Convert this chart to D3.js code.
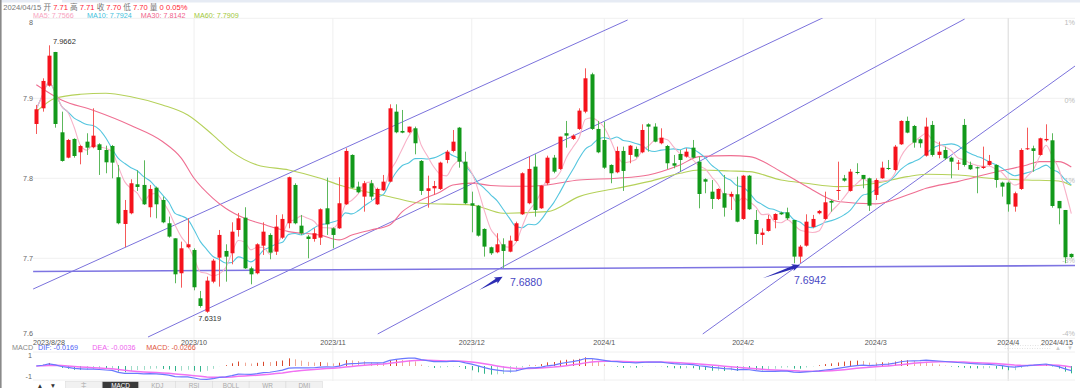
<!DOCTYPE html>
<html>
<head>
<meta charset="utf-8">
<script src="https://cdn.jsdelivr.net/npm/d3@7"></script>
<style>
  body { margin: 0; background: #fff; }
  svg { display: block; font-family: "Liberation Sans", Arial, "Noto Sans CJK SC", sans-serif; }
</style>
</head>
<body>
<div id="chart"></div>
<script>
// daily candles 2023/8/28 .. 2024/4/15
const opens = [7.8679,7.8875,7.9158,7.9579,7.8575,7.8258,7.8492,7.8325,7.8458,7.8388,7.8425,7.8354,7.8404,7.8013,7.7429,7.7563,7.7925,7.7917,7.7638,7.7883,
  7.7729,7.7438,7.725,7.6813,7.7138,7.7104,7.65,7.6333,7.6708,7.7008,7.7092,7.7063,7.7354,7.7508,7.6875,7.6813,7.7158,7.7292,7.7083,7.7258,
  7.7438,7.7917,7.7408,7.7271,7.7242,7.7258,7.7625,7.7375,7.7375,7.7675,7.8292,7.7896,7.7771,7.7938,7.7675,7.785,7.7958,7.8833,7.8592,7.8575,
  7.8625,7.8217,7.7842,7.7875,7.7867,7.8229,7.8342,7.8633,7.8208,7.7688,7.7658,7.7367,7.7138,7.7075,7.7175,7.7083,7.7217,7.755,7.7688,7.8146,
  7.7625,7.7938,7.8258,7.8117,7.8563,7.8492,7.8617,7.8833,7.93,7.8617,7.8479,7.8167,7.8075,7.8342,7.8292,7.8367,7.8325,7.8675,7.8646,7.8438,
  7.8404,7.8188,7.8304,7.8271,7.8383,7.8208,7.7988,7.7833,7.7742,7.7813,7.7771,7.78,7.7492,7.8033,7.7479,7.7292,7.7342,7.7479,7.7571,7.7575,
  7.7479,7.7021,7.7158,7.7392,7.7563,7.7492,7.7717,7.7842,7.8,7.7842,7.8079,7.8042,7.8,7.7792,7.8,7.8129,7.8104,7.8425,7.8717,7.8654,
  7.8488,7.8283,7.8667,7.8292,7.8354,7.8258,7.8183,7.8667,7.8167,7.8138,7.8129,7.8167,7.8167,7.7946,7.7946,7.7646,7.7867,7.8367,7.8375,7.8292,
  7.8475,7.8475,7.7717,7.7604,7.7055];
const highs = [7.8917,7.925,7.9662,7.958,7.8833,7.8492,7.85,7.8417,7.8563,7.8875,7.8438,7.8408,7.8417,7.8167,7.7729,7.7988,7.81,7.8225,7.7917,7.7896,
  7.7771,7.7521,7.725,7.7208,7.75,7.7125,7.6592,7.6771,7.6992,7.7354,7.7175,7.745,7.7567,7.7638,7.6896,7.7188,7.745,7.7313,7.7542,7.755,
  7.8021,7.7938,7.7542,7.7292,7.7375,7.7625,7.8008,7.7388,7.8013,7.8375,7.83,7.7958,7.7967,7.7979,7.7883,7.8042,7.8925,7.8925,7.8854,7.8646,
  7.8646,7.8229,7.8033,7.7967,7.8208,7.8354,7.8604,7.8642,7.8333,7.7833,7.7667,7.7375,7.7146,7.7313,7.725,7.7283,7.7458,7.8075,7.8271,7.83,
  7.7917,7.8283,7.8292,7.8521,7.8717,7.855,7.8875,7.9375,7.932,7.8717,7.8708,7.8175,7.8396,7.8396,7.8417,7.8396,7.8675,7.8688,7.8688,7.8625,
  7.8417,7.8292,7.8354,7.8375,7.8479,7.8271,7.8,7.7979,7.7875,7.8042,7.7833,7.8021,7.8042,7.8042,7.7604,7.7375,7.7542,7.7563,7.7583,7.7633,
  7.7479,7.7167,7.755,7.7542,7.7604,7.7833,7.7729,7.8208,7.8042,7.8117,7.8188,7.8042,7.8008,7.8,7.8208,7.8229,7.8417,7.8725,7.8771,7.8667,
  7.85,7.8758,7.8717,7.8458,7.8396,7.8271,7.8229,7.8742,7.8208,7.8146,7.8396,7.8292,7.8175,7.7958,7.7958,7.7833,7.8375,7.8633,7.8408,7.8508,
  7.8675,7.8563,7.7717,7.7604,7.706];
const lows = [7.8554,7.8833,7.9146,7.8633,7.8208,7.825,7.8258,7.8175,7.8292,7.8375,7.8042,7.8063,7.8,7.7425,7.7138,7.755,7.7842,7.7667,7.7513,7.75,
  7.7438,7.7258,7.6688,7.6633,7.7125,7.66,7.6383,7.6319,7.6688,7.6646,7.6708,7.6925,7.7271,7.6867,7.6675,7.68,7.7042,7.6988,7.7042,7.7242,
  7.7375,7.7425,7.7292,7.7,7.7208,7.7167,7.7292,7.7125,7.7367,7.7667,7.7875,7.7813,7.7583,7.7729,7.7667,7.7842,7.795,7.8563,7.8563,7.8563,
  7.83,7.7792,7.7633,7.7792,7.7854,7.8188,7.8325,7.8133,7.7675,7.7325,7.7271,7.7021,7.7042,7.7063,7.688,7.7075,7.7208,7.7542,7.7675,7.7521,
  7.7617,7.7917,7.8063,7.8104,7.8383,7.8479,7.8604,7.8813,7.8604,7.8313,7.8117,7.7938,7.8063,7.7842,7.8188,7.8258,7.8313,7.8333,7.845,7.8425,
  7.8117,7.8125,7.8083,7.8258,7.825,7.7625,7.7813,7.7617,7.7729,7.7521,7.7604,7.745,7.7479,7.7604,7.7175,7.7167,7.7333,7.7375,7.7542,7.7479,
  7.6938,7.6942,7.7146,7.7375,7.755,7.7479,7.7583,7.7729,7.7958,7.7833,7.805,7.7875,7.7592,7.7729,7.7992,7.8104,7.8092,7.8417,7.8563,7.8383,
  7.8383,7.8271,7.8271,7.825,7.8229,7.8,7.8104,7.8146,7.8104,7.7813,7.8117,7.8158,7.7883,7.7771,7.7583,7.7583,7.7854,7.8354,7.8083,7.8283,
  7.8458,7.7633,7.7425,7.6938,7.70];
const closes = [7.8863,7.9217,7.9533,7.8679,7.8217,7.8479,7.8279,7.8404,7.8383,7.8533,7.8354,7.82,7.8196,7.7438,7.7604,7.7938,7.7892,7.7675,7.7867,7.7675,
  7.745,7.7271,7.68,7.7125,7.7175,7.6638,7.6404,7.6721,7.6971,7.7292,7.7021,7.7333,7.75,7.6875,7.68,7.7175,7.7333,7.7071,7.7396,7.7492,
  7.8013,7.7438,7.7313,7.7242,7.7313,7.7613,7.7425,7.7292,7.7688,7.8342,7.7883,7.7825,7.7938,7.7771,7.7867,7.7958,7.8875,7.8575,7.8571,7.8646,
  7.8438,7.7842,7.7875,7.7904,7.8196,7.8333,7.8458,7.8208,7.7688,7.7658,7.7283,7.7146,7.7063,7.7175,7.7092,7.7221,7.7438,7.8063,7.8117,7.7604,
  7.7908,7.8258,7.8083,7.8521,7.8533,7.8533,7.8846,7.925,7.8617,7.8325,7.8133,7.8063,7.8342,7.8092,7.8408,7.8271,7.8604,7.8646,7.8458,7.8508,
  7.8188,7.8158,7.8229,7.8333,7.8258,7.7804,7.7958,7.7742,7.7867,7.7633,7.7804,7.7458,7.8033,7.7613,7.7304,7.7321,7.7492,7.7554,7.755,7.75,
  7.7021,7.7146,7.7458,7.7492,7.7592,7.77,7.7696,7.7854,7.7971,7.8083,7.8067,7.7992,7.7658,7.7979,7.8133,7.8117,7.8396,7.8717,7.8571,7.8446,
  7.8438,7.8646,7.8292,7.8333,7.825,7.8208,7.8196,7.8167,7.8113,7.8125,7.8146,7.8217,7.7979,7.7896,7.7675,7.7813,7.8354,7.8375,7.8342,7.85,
  7.8492,7.7654,7.7625,7.7013,7.7015];

// MA30 / MA60 read at sample points (candle index, value)
const ma30Idx = [0,4,9,15,20,23,25,28,30,33,36,38,40,45,48,50,53,56,58,61,64,66,69,72,75,78,81,86,92,97,102,105,110,113,118,122,127,133,138,141,146,151,157,159,162,164];
const ma30Val = [7.917,7.898,7.885,7.866,7.846,7.825,7.80,7.775,7.7625,7.75,7.7425,7.7375,7.7333,7.729,7.723,7.729,7.7354,7.7417,7.7583,7.7729,7.783,7.7917,7.794,7.791,7.79,7.79,7.7917,7.7979,7.80,7.8042,7.8167,7.8271,7.8283,7.8271,7.8083,7.79,7.771,7.768,7.779,7.7875,7.7958,7.806,7.8167,7.8208,7.8208,7.8142];
const ma60Idx = [0,3,7,11,15,20,24,28,31,35,40,45,48,56,61,69,74,81,86,92,97,102,105,110,113,118,122,127,133,138,141,146,151,157,162,164];
const ma60Val = [7.8833,7.90,7.905,7.9063,7.902,7.8917,7.8792,7.854,7.833,7.8167,7.8104,7.80,7.7917,7.777,7.7688,7.7667,7.7563,7.7583,7.7771,7.7875,7.7958,7.8063,7.8104,7.8092,7.8083,7.7979,7.7938,7.7896,7.7938,7.8021,7.805,7.8042,7.80,7.7979,7.7967,7.7909];

// drawn trend lines: [start index, start price, end index, end price]
const channelLines = [[-0.5,7.6616,93.7,7.9979],[17.7,7.6016,124.9,8.0016],[54.1,7.6054,147.1,7.9991],[105.6,7.6054,164.6,7.9404]];
const supportLine = [-0.5,7.6835,164.7,7.691];
const markIdx = [74,121];
const markVal = [7.6880,7.6942];

const priceTicks = [8.0,7.9,7.8,7.7,7.6];
const priceTickLabels = ["8","7.9","7.8","7.7","7.6"];
const pctTickLabels = ["1%","0%","-1%","-3%","-4%"];
const holidays = ["2024-01-01"];
const tabs = ["主","MACD","KDJ","RSI","BOLL","WR","DMI"];
const headParts = [["2024/04/15 ","#777"],["开 ","#777"],["7.71 ","#f23"],["高 ","#777"],["7.71 ","#f23"],["收 ","#777"],["7.70 ","#f23"],["低 ","#777"],["7.70 ","#f23"],["量 ","#777"],["0 ","#f23"],["0.05%","#f23"]];
const maLegend = [["MA5: 7.7566","#f7a3c0"],["MA10: 7.7924","#3fbfdc"],["MA30: 7.8142","#f0648c"],["MA60: 7.7909","#a2c73a"]];
const macdLegend = [["MACD","#888"],["DIF: -0.0169","#4f63f5"],["DEA: -0.0036","#ee62ee"],["MACD: -0.0266","#e0553c"]];

const n = closes.length;
const W = 1080, H = 388;
const plotL = 33, plotR = 1075, plotT = 18.3, plotB = 338.3;

// trading calendar (weekdays)
const fmtKey = d3.timeFormat("%Y-%m-%d");
const dates = [];
for (let d = new Date(2023, 7, 28); dates.length < n; d.setDate(d.getDate() + 1)) {
  const wd = d.getDay();
  if (wd === 0 || wd === 6 || holidays.includes(fmtKey(d))) continue;
  dates.push(new Date(d));
}
// month starts, skipping the one that would crowd the first date label
const monthIdx = d3.range(10, n).filter(i => dates[i].getMonth() !== dates[i - 1].getMonth());

const x = d3.scaleLinear().domain([0, n - 1]).range([36.3, 1071.3]);
const y = d3.scaleLinear().domain([7.6, 8.0]).range([plotB, plotT]);

const svg = d3.select("#chart").append("svg").attr("width", W).attr("height", H);
svg.append("rect").attr("width", W).attr("height", H).attr("fill", "#fff");
svg.append("rect").attr("x", 0).attr("y", 0).attr("width", 40).attr("height", 2.5).attr("fill", "#e6ebf4");
svg.append("rect").attr("x", 62).attr("y", 0).attr("width", W - 62).attr("height", 2.5).attr("fill", "#e6ebf4");
svg.append("line").attr("x1", 0.8).attr("x2", 0.8).attr("y1", 0).attr("y2", H).attr("stroke", "#8a8a8a").attr("stroke-width", 1.6);

svg.append("clipPath").attr("id", "plot").append("rect")
  .attr("x", plotL).attr("y", plotT).attr("width", plotR - plotL).attr("height", plotB - plotT);

// grid
svg.append("g").selectAll("line").data(priceTicks).join("line")
  .attr("x1", plotL).attr("x2", plotR).attr("y1", d => y(d)).attr("y2", d => y(d))
  .attr("stroke", "#f0f0f0");
svg.append("g").selectAll("line").data(monthIdx).join("line")
  .attr("x1", i => x(i)).attr("x2", i => x(i)).attr("y1", plotT).attr("y2", 381)
  .attr("stroke", (i, k) => k === monthIdx.length - 1 ? "#d8d8d8" : "#efefef");

// left/right price labels
const lab = svg.append("g").attr("font-size", 7.2);
lab.selectAll("text.l").data(priceTicks).join("text").attr("class", "l")
  .attr("x", 33).attr("y", (d, k) => y(d) + (k === 0 ? 7 : k === priceTicks.length - 1 ? -2 : 2.5))
  .attr("text-anchor", "end").attr("fill", "#666").text((d, k) => priceTickLabels[k]);
lab.selectAll("text.r").data(priceTicks).join("text").attr("class", "r")
  .attr("x", 1075).attr("y", (d, k) => y(d) + (k === 0 ? 7 : k === priceTicks.length - 1 ? -2 : 5))
  .attr("text-anchor", "end").attr("fill", "#bbb").text((d, k) => pctTickLabels[k]);

// date labels
const fmtMonth = d3.timeFormat("%Y/%-m");
const fmtDay = d3.timeFormat("%Y/%-m/%-d");
const dl = svg.append("g").attr("font-size", 7.2).attr("fill", "#555");
dl.selectAll("text").data(monthIdx).join("text")
  .attr("x", i => x(i)).attr("y", 344.5).attr("text-anchor", "middle").text(i => fmtMonth(dates[i]));
dl.append("text").attr("x", 33).attr("y", 344.5).text(fmtDay(dates[0]));
dl.append("text").attr("x", 1073).attr("y", 344.5).attr("text-anchor", "end").text(fmtDay(dates[n - 1]));

const plot = svg.append("g").attr("clip-path", "url(#plot)");

// trend lines
plot.selectAll("line.ch").data(channelLines).join("line").attr("class", "ch")
  .attr("x1", d => x(d[0])).attr("y1", d => y(d[1])).attr("x2", d => x(d[2])).attr("y2", d => y(d[3]))
  .attr("stroke", "#7b72dc").attr("stroke-width", 1);
plot.append("line")
  .attr("x1", x(supportLine[0])).attr("y1", y(supportLine[1])).attr("x2", x(supportLine[2])).attr("y2", y(supportLine[3]))
  .attr("stroke", "#7d74e2").attr("stroke-width", 1.6);

// moving averages
const maCalc = p => closes.map((c, i) => d3.mean(closes.slice(Math.max(0, i - p + 1), i + 1)));
const line = d3.line().x(d => x(d[0])).y(d => y(d[1])).curve(d3.curveMonotoneX);
const ma5 = maCalc(5).map((v, i) => [i, v]);
const ma10 = maCalc(10).map((v, i) => [i, v]);
const ma30 = ma30Idx.map((i, k) => [i, ma30Val[k]]);
const ma60 = ma60Idx.map((i, k) => [i, ma60Val[k]]);
[[ma60, "#b5d15a"], [ma30, "#ef6f92"], [ma10, "#55c6df"], [ma5, "#f8b2c8"]].forEach(([d, c]) => {
  plot.append("path").datum(d).attr("d", line).attr("fill", "none").attr("stroke", c).attr("stroke-width", 1.1);
});

// candles
const up = i => closes[i] >= opens[i];
const cg = plot.append("g");
cg.selectAll("line").data(d3.range(n)).join("line")
  .attr("x1", i => Math.round(x(i)) + 0.5).attr("x2", i => Math.round(x(i)) + 0.5)
  .attr("y1", i => y(highs[i])).attr("y2", i => y(lows[i]))
  .attr("stroke", i => up(i) ? "#f55a5a" : "#5cb85c");
cg.selectAll("rect").data(d3.range(n)).join("rect")
  .attr("x", i => Math.round(x(i)) - 1.5).attr("width", 4)
  .attr("y", i => y(Math.max(opens[i], closes[i])))
  .attr("height", i => Math.max(1, Math.abs(y(opens[i]) - y(closes[i]))))
  .attr("fill", i => up(i) ? "#f5121c" : "#12991a");

// high / low labels
const iMax = d3.maxIndex(highs), iMin = d3.minIndex(lows);
svg.append("text").attr("x", x(iMax) + 4).attr("y", y(highs[iMax]) - 1).attr("font-size", 7.5).attr("fill", "#333").text(highs[iMax].toFixed(4));
svg.append("text").attr("x", x(iMin) + 3).attr("y", y(lows[iMin]) + 8.5).attr("text-anchor", "middle").attr("font-size", 7.5).attr("fill", "#333").text(lows[iMin].toFixed(4));

// arrows + marked lows
function arrow(x1, y1, x2, y2) {
  const dx = x2 - x1, dy = y2 - y1, L = Math.hypot(dx, dy);
  const ux = dx / L, uy = dy / L, nx = -uy, ny = ux;
  const bx = x2 - ux * 7, by = y2 - uy * 7;
  return [[x1, y1], [bx + nx * 1.6, by + ny * 1.6], [bx + nx * 3.6 - ux, by + ny * 3.6 - uy], [x2, y2],
    [bx - nx * 3.6 - ux, by - ny * 3.6 - uy], [bx - nx * 1.6, by - ny * 1.6]];
}
const tails = [[-23.4, 13.3], [-37.3, 13.3]];
const tipOff = [[-0.7, 8.8], [0, 2]];
const textOff = [[6.6, 18.3], [-6, 21.3]];
markIdx.forEach((i, k) => {
  const tx = x(i) + tipOff[k][0], ty = y(markVal[k]) + tipOff[k][1];
  svg.append("polygon").attr("points", arrow(tx + tails[k][0], ty + tails[k][1], tx, ty).join(" ")).attr("fill", "#2d2db4");
  svg.append("text").attr("x", x(i) + textOff[k][0]).attr("y", y(markVal[k]) + textOff[k][1])
    .attr("font-size", 10.5).attr("fill", "#4848c4").text(markVal[k].toFixed(4));
});

// header legends
const h1 = svg.append("text").attr("x", 3.3).attr("y", 10).attr("font-size", 7.6);
headParts.forEach(([t, c]) => h1.append("tspan").attr("fill", c).text(t));
const maX = [33, 87, 140.7, 194];
maLegend.forEach(([t, c], k) => svg.append("text").attr("x", maX[k]).attr("y", 18).attr("font-size", 7.2).attr("fill", c).text(t));

// MACD panel
const ema = (arr, p) => { const a = 2 / (p + 1); const out = []; arr.forEach((v, i) => out.push(i ? a * v + (1 - a) * out[i - 1] : v)); return out; };
const e12 = ema(closes, 12), e26 = ema(closes, 26);
const dif = e12.map((v, i) => v - e26[i]);
const dea = ema(dif, 9);
const hist = dif.map((v, i) => 2 * (v - dea[i]));
const ext = d3.max([...dif, ...dea, ...hist].map(Math.abs)) * 1.05;
const my = d3.scaleLinear().domain([-ext, ext]).range([380, 352]);

const mg = svg.append("g");
mg.selectAll("line.g").data([352, 380]).join("line").attr("class", "g")
  .attr("x1", plotL).attr("x2", plotR).attr("y1", d => d).attr("y2", d => d).attr("stroke", "#f0f0f0");
mg.selectAll("line.h").data(d3.range(n)).join("line").attr("class", "h")
  .attr("x1", i => Math.round(x(i)) + 0.5).attr("x2", i => Math.round(x(i)) + 0.5)
  .attr("y1", my(0)).attr("y2", i => my(hist[i]))
  .attr("stroke", i => {
    const grow = i > 0 && Math.abs(hist[i]) >= Math.abs(hist[i - 1]);
    return hist[i] >= 0 ? (grow ? "#d8482c" : "#f0a896") : (grow ? "#2fb48c" : "#9fdcc8");
  });
const ml = d3.line().x((d, i) => x(i)).y(d => my(d));
mg.append("path").datum(dea).attr("d", ml).attr("fill", "none").attr("stroke", "#f272f2").attr("stroke-width", 1.5);
mg.append("path").datum(dif).attr("d", ml).attr("fill", "none").attr("stroke", "#6a78ff").attr("stroke-width", 1.2);

const macdX = [12, 38, 92.3, 146.3];
macdLegend.forEach(([t, c], k) => svg.append("text").attr("x", macdX[k]).attr("y", 349.5).attr("font-size", 7.2).attr("fill", c).text(t));
svg.append("text").attr("x", 32).attr("y", 358).attr("text-anchor", "end").attr("font-size", 7.2).attr("fill", "#666").text("1");
svg.append("text").attr("x", 32).attr("y", 379).attr("text-anchor", "end").attr("font-size", 7.2).attr("fill", "#666").text("-1");

// bottom tab bar (cut by the bottom edge, as in the source)
const tg = svg.append("g").attr("font-size", 6.4);
tabs.forEach((t, k) => {
  const tx = 65.4 + k * 36.75;
  tg.append("rect").attr("x", tx).attr("y", 381.5).attr("width", 36.75).attr("height", 8)
    .attr("fill", k === 1 ? "#3a3a3a" : "#f1f1f1").attr("stroke", "#dcdcdc").attr("stroke-width", 0.6);
  tg.append("text").attr("x", tx + 18.4).attr("y", 387.6).attr("text-anchor", "middle")
    .attr("fill", k === 1 ? "#fff" : "#aaa").text(t);
});
tg.append("text").attr("x", 40).attr("y", 387.6).attr("text-anchor", "middle").attr("fill", "#333").text("▲");
tg.append("text").attr("x", 53).attr("y", 387.6).attr("text-anchor", "middle").attr("fill", "#333").text("▼");
// right-bottom scroller
svg.append("rect").attr("x", 1005).attr("y", 345.5).attr("width", 45).attr("height", 3)
  .attr("fill", "none").attr("stroke", "#e2e2e2").attr("stroke-dasharray", "1,1.5");
svg.append("text").attr("x", 1058).attr("y", 350).attr("text-anchor", "middle").attr("font-size", 6).attr("fill", "#ccc").text("▲");
svg.append("text").attr("x", 1070).attr("y", 350).attr("text-anchor", "middle").attr("font-size", 6).attr("fill", "#ccc").text("▼");
</script>
</body>
</html>
